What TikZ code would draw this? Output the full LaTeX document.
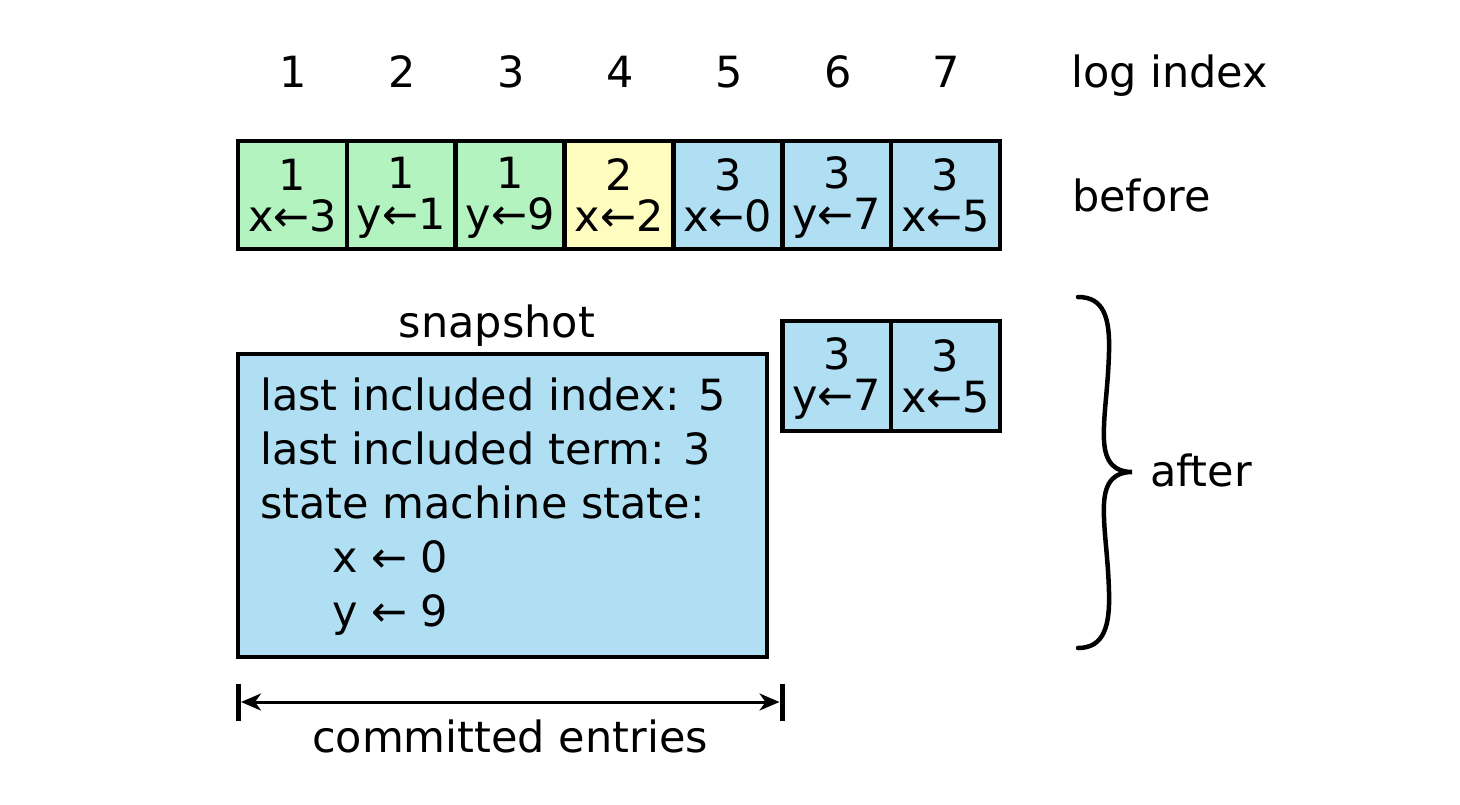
\documentclass[tikz,border=0pt]{standalone}
\usepackage{fontspec}
\setmainfont{DejaVu Sans}
\usetikzlibrary{arrows.meta}
\definecolor{cgreen}{RGB}{179,243,192}
\definecolor{cyellow}{RGB}{255,252,192}
\definecolor{cblue}{RGB}{176,223,244}
\newcommand\cstrut{\rule[-5pt]{0pt}{41pt}}
\tikzset{
  cell/.style={draw=black, line width=4.5pt, minimum width=108.9pt, minimum height=108pt,
    inner sep=0pt, outer sep=0pt, align=center, font=\fontsize{43}{41}\selectfont},
  lbl/.style={inner sep=0pt, font=\fontsize{43}{52}\selectfont},
  snapbox/.style={draw=black, line width=4.5pt, fill=cblue, minimum width=529pt, minimum height=303pt, inner sep=0pt},
  dimtip/.tip={Stealth[length=20pt,width=17pt,inset=6pt]},
}
\begin{document}
\begin{tikzpicture}[x=1pt,y=-1pt]
\useasboundingbox[fill=white] (0,0) rectangle (1460,804);
% index labels
\foreach \i in {1,...,7} {
  \node[lbl, anchor=base] (n\i) at ({238+108.86*(\i-0.5)+1},87) {\i};
}
\node[lbl, anchor=base west] (logidx) at (1071,87) {log index};
% before row
\node[cell, fill=cgreen]  (b1) at ({238+108.86*0.5},195) {\cstrut 1\\\cstrut x←3};
\node[cell, fill=cgreen]  (b2) at ({238+108.86*1.5},195) {\cstrut 1\\\cstrut y←1};
\node[cell, fill=cgreen]  (b3) at ({238+108.86*2.5},195) {\cstrut 1\\\cstrut y←9};
\node[cell, fill=cyellow] (b4) at ({238+108.86*3.5},195) {\cstrut 2\\\cstrut x←2};
\node[cell, fill=cblue]   (b5) at ({238+108.86*4.5},195) {\cstrut 3\\\cstrut x←0};
\node[cell, fill=cblue]   (b6) at ({238+108.86*5.5},195) {\cstrut 3\\\cstrut y←7};
\node[cell, fill=cblue]   (b7) at ({238+108.86*6.5},195) {\cstrut 3\\\cstrut x←5};
\node[lbl, anchor=base west] (before) at (1072,211) {before};
% after
\node[cell, fill=cblue, minimum height=110pt] (a6) at ({238+108.86*5.5},376) {\cstrut 3\\\cstrut y←7};
\node[cell, fill=cblue, minimum height=110pt] (a7) at ({238+108.86*6.5},376) {\cstrut 3\\\cstrut x←5};
\node[lbl, anchor=base] (snaplbl) at (497,337) {snapshot};
\node[snapbox] (snap) at (502.5,505.5) {};
\node[lbl, anchor=base west] (l1) at (260,410) {last included index: 5};
\node[lbl, anchor=base west] (l2) at (260,464) {last included term: 3};
\node[lbl, anchor=base west] (l3) at (260,518) {state machine state:};
\node[lbl, anchor=base west] (l4) at (332,572) {x ← 0};
\node[lbl, anchor=base west] (l5) at (332,626) {y ← 9};
% brace
\draw[line width=4.5pt, line cap=round]
  (1078,297) .. controls (1104,297) and (1110,318) .. (1109,352)
  .. controls (1108,390) and (1103,415) .. (1104,440)
  .. controls (1105,464) and (1116,472) .. (1132,472)
  .. controls (1116,472) and (1105,480) .. (1104,504)
  .. controls (1103,529) and (1108,554) .. (1109,592)
  .. controls (1110,626) and (1104,648) .. (1078,648);
\node[lbl, anchor=base west] (after) at (1150,486) {after};
% committed entries
\coordinate (cl) at (238.5,702);
\coordinate (cr) at (782,702);
\draw[line width=5pt] ([yshift=-19pt]cl) -- ([yshift=18pt]cl);
\draw[line width=5pt] ([yshift=-19pt]cr) -- ([yshift=18pt]cr);
\draw[line width=3pt, dimtip-dimtip] ([xshift=2.5pt]cl) -- ([xshift=-2.5pt]cr);
\node[lbl, anchor=base] (committed) at (510,752) {committed entries};
\end{tikzpicture}
\end{document}
